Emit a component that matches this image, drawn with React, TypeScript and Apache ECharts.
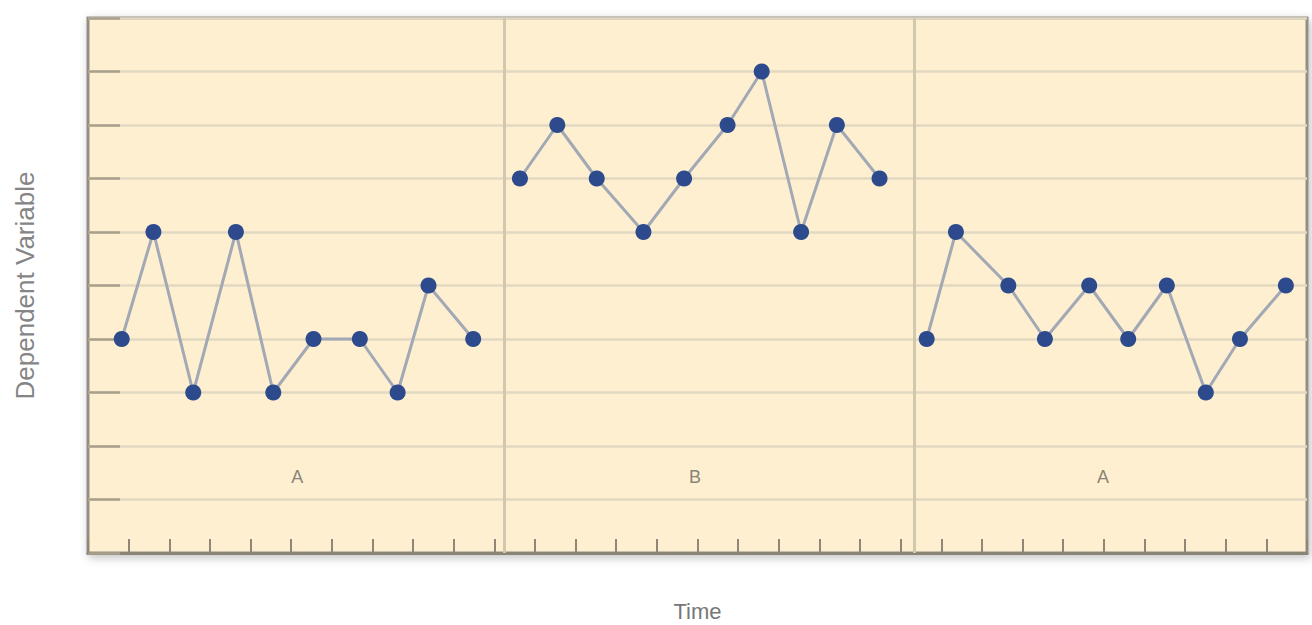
import React, { useEffect, useRef } from "react";
import * as echarts from "echarts";

// Phase A (baseline)
const phaseA1Times = [0.83, 1.61, 2.59, 3.64, 4.56, 5.55, 6.69, 7.62, 8.38, 9.48];
const phaseA1Values = [4, 6, 3, 6, 3, 4, 4, 3, 5, 4];
// Phase B (treatment)
const phaseBTimes = [10.63, 11.55, 12.52, 13.67, 14.67, 15.74, 16.58, 17.55, 18.43, 19.48];
const phaseBValues = [7, 8, 7, 6, 7, 8, 9, 6, 8, 7];
// Phase A (return to baseline)
const phaseA2Times = [20.64, 21.36, 22.65, 23.55, 24.64, 25.6, 26.55, 27.51, 28.35, 29.48];
const phaseA2Values = [4, 6, 5, 4, 5, 4, 5, 3, 4, 5];

const phaseBoundaries = [10.25, 20.33];
const phaseLabels = ["A", "B", "A"];
const phaseLabelTimes = [5.15, 14.94, 24.98];
const phaseLabelLevel = 1.42;

const yAxisName = "Dependent Variable";
const xAxisName = "Time";

const FONT = "Liberation Sans, Arial, sans-serif";

const zip = (xs: number[], ys: number[]) => xs.map((x, i) => [x, ys[i]]);

export default function App() {
  const ref = useRef<HTMLDivElement>(null);

  useEffect(() => {
    if (!ref.current) return;
    const chart = echarts.init(ref.current, undefined, { renderer: "svg" });

    const lineSeries = (data: number[][], withMarks: boolean) => ({
      type: "line",
      data,
      symbol: "circle",
      symbolSize: 16,
      showSymbol: true,
      itemStyle: { color: "#2d4a8d" },
      lineStyle: { color: "#a2a8b4", width: 3 },
      z: 3,
      ...(withMarks
        ? {
            markLine: {
              silent: true,
              symbol: "none",
              label: { show: false },
              lineStyle: { color: "#d2c8ae", width: 3, type: "solid" },
              data: phaseBoundaries.map((b) => ({ xAxis: b })),
            },
          }
        : {}),
    });

    chart.setOption({
      animation: false,
      backgroundColor: "#ffffff",
      grid: {
        left: 88,
        right: 5,
        top: 18,
        bottom: 72,
        outerBoundsMode: "none",
        containLabel: false,
        show: true,
        backgroundColor: "#fdefd0",
        borderColor: "#928e86",
        borderWidth: 3,
        shadowBlur: 10,
        shadowColor: "rgba(0,0,0,0.25)",
        shadowOffsetX: 2,
        shadowOffsetY: 3,
      },
      xAxis: {
        type: "value",
        min: 0,
        max: 30,
        interval: 1,
        name: xAxisName,
        nameLocation: "middle",
        nameGap: 47,
        nameTextStyle: { color: "#777777", fontSize: 22, fontFamily: FONT, verticalAlign: "top" },
        axisLine: { show: true, lineStyle: { color: "#8a8475", width: 3 } },
        axisTick: { show: true, inside: true, length: 14, lineStyle: { color: "#8f8878", width: 2 } },
        axisLabel: { show: false },
        splitLine: { show: false },
      },
      yAxis: {
        type: "value",
        min: 0,
        max: 10,
        interval: 1,
        name: yAxisName,
        nameLocation: "middle",
        nameGap: 50,
        nameRotate: 90,
        nameTextStyle: { color: "#858585", fontSize: 26, fontFamily: FONT },
        axisLine: { show: false },
        axisTick: { show: true, inside: true, length: 32, lineStyle: { color: "#a9a08b", width: 2.5 } },
        axisLabel: { show: false },
        splitLine: { show: true, lineStyle: { color: "#e2d9c2", width: 2.5 } },
      },
      series: [
        lineSeries(zip(phaseA1Times, phaseA1Values), true),
        lineSeries(zip(phaseBTimes, phaseBValues), false),
        lineSeries(zip(phaseA2Times, phaseA2Values), false),
        {
          type: "scatter",
          symbolSize: 1,
          itemStyle: { color: "transparent" },
          silent: true,
          data: phaseLabels.map((l, i) => [phaseLabelTimes[i], phaseLabelLevel, l]),
          label: {
            show: true,
            position: "inside",
            formatter: (p: any) => p.data[2],
            color: "#6a665e",
            fontSize: 18,
            fontFamily: FONT,
          },
          z: 4,
        },
      ],
    });

    return () => chart.dispose();
  }, []);

  return (
    <div
      ref={ref}
      style={{ position: "fixed", left: 0, top: 0, width: 1312, height: 625, background: "#ffffff" }}
    />
  );
}
